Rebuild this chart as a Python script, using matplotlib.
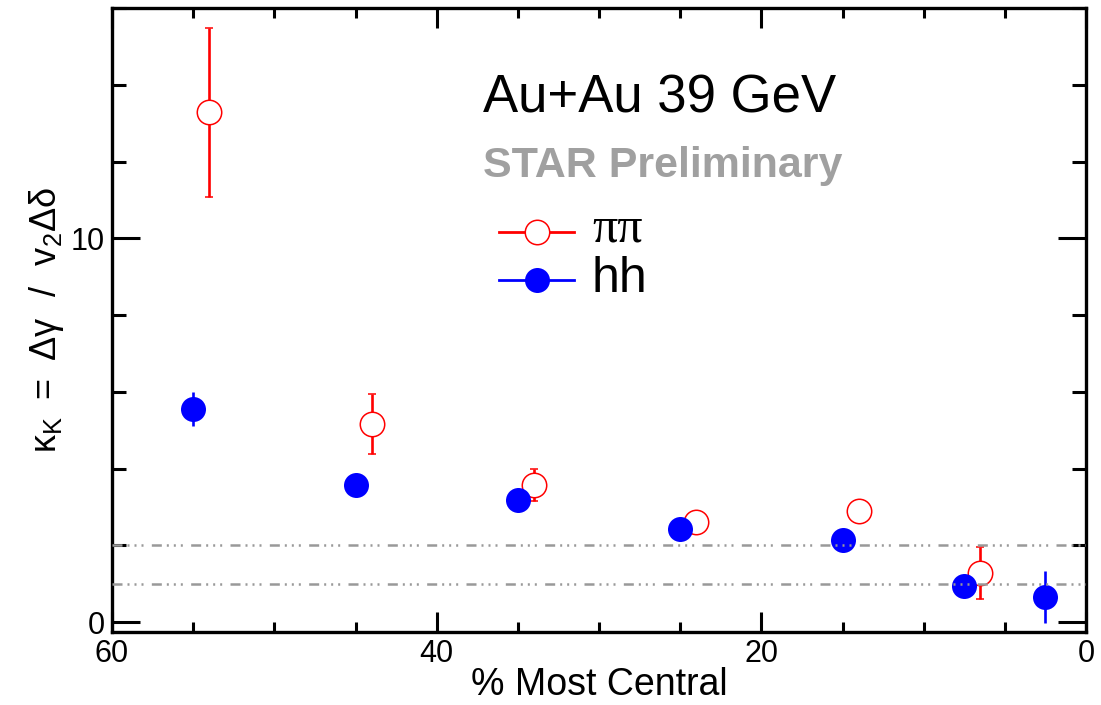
import matplotlib
matplotlib.use("Agg")
import matplotlib.pyplot as plt
from matplotlib.lines import Line2D
from matplotlib.ticker import MultipleLocator

plt.rcParams['font.family'] = ['Liberation Sans', 'DejaVu Sans']
plt.rcParams['mathtext.fontset'] = 'custom'
plt.rcParams['mathtext.rm'] = 'Liberation Sans'
plt.rcParams['mathtext.it'] = 'Liberation Sans:italic'
plt.rcParams['mathtext.bf'] = 'Liberation Sans:bold'
plt.rcParams['lines.scale_dashes'] = False

# kappa_K vs centrality, Au+Au 39 GeV
pipi_cent = [54, 44, 34, 24, 14, 6.5]
pipi_kappa = [13.28, 5.16, 3.58, 2.62, 2.90, 1.28]
pipi_err = [2.2, 0.78, 0.42, 0.2, 0.2, 0.68]

hh_cent = [55, 45, 35, 25, 15, 7.5, 2.5]
hh_kappa = [5.55, 3.57, 3.17, 2.42, 2.15, 0.94, 0.65]
hh_err = [0.45, 0.2, 0.2, 0.2, 0.2, 0.2, 0.67]

ref_levels = [1.0, 2.0]

W, H = 1101, 705
fig = plt.figure(figsize=(W / 100, H / 100), dpi=100)
ax = fig.add_axes([112 / W, (H - 631.7) / H, 974 / W, 623.7 / H])

RED = '#ff0000'
BLUE = '#0000ff'
GRAY = '#999999'

ax.errorbar(pipi_cent, pipi_kappa, yerr=pipi_err, fmt='o', color=RED,
            mfc='white', mec=RED, mew=1.1, ms=17.6, elinewidth=1.9,
            capsize=3.0, capthick=2.4, zorder=3)
ax.errorbar(hh_cent, hh_kappa, yerr=hh_err, fmt='o', color=BLUE,
            mfc=BLUE, mec=BLUE, mew=0, ms=18, elinewidth=1.9,
            capsize=3.0, capthick=2.4, zorder=4)

for lev in ref_levels:
    ax.axhline(lev, color=GRAY, lw=1.8, zorder=5, dash_capstyle='butt',
               dashes=(7.2, 3.6, 1.44, 3.6, 1.44, 3.6, 1.44, 6.0))

ax.set_xlim(60, 0)
ax.set_ylim(-0.25, 16)
ax.xaxis.set_major_locator(MultipleLocator(20))
ax.xaxis.set_minor_locator(MultipleLocator(5))
ax.yaxis.set_major_locator(MultipleLocator(10))
ax.yaxis.set_minor_locator(MultipleLocator(2))

for s in ax.spines.values():
    s.set_linewidth(2.4)
ax.tick_params(which='both', direction='in', top=True, right=True,
               width=2.2, labelsize=22, pad=5)
ax.tick_params(axis='x', which='major', length=14.4)
ax.tick_params(axis='x', which='minor', length=7.2)
ax.tick_params(axis='y', which='major', length=20)
ax.tick_params(axis='y', which='minor', length=10)

ax.set_xlabel('% Most Central', fontsize=27)
ax.xaxis.set_label_coords(0.5, -0.056)
sp_eq = r'\hspace{0.38}'
sp = r'\hspace{0.72}'
ylab = (r'$\mathrm{κ_{K}}' + sp_eq + r'\mathrm{=}' + sp_eq + r'\mathrm{Δγ}' + sp +
        r'\mathrm{/}' + sp + r'\mathrm{v_{2}Δδ}$')
ax.set_ylabel(ylab, fontsize=26)
ax.yaxis.set_label_coords(-0.047, 0.5)


def fx(px):
    return px / W


def fy(py):
    return 1 - py / H


fig.text(fx(483), fy(112.7), 'Au+Au 39 GeV', fontsize=38, va='baseline', ha='left')
fig.text(fx(483), fy(176.7), 'STAR Preliminary', fontsize=31, weight='bold',
         color='#a0a0a0', va='baseline', ha='left')

# legend entries
rows = [
    (231.7, 241.7, RED, 'white', 1.1, 17.6, 'ππ', ['Liberation Serif', 'DejaVu Serif']),
    (280.0, 291.7, BLUE, BLUE, 0, 18, 'hh', ['Liberation Sans', 'DejaVu Sans']),
]
for ly, base, col, face, mew, ms, lab, fam in rows:
    fig.add_artist(Line2D([fx(499), fx(574)], [fy(ly), fy(ly)], color=col, lw=2,
                          transform=fig.transFigure))
    fig.add_artist(Line2D([fx(537)], [fy(ly)], color=col, marker='o', ms=ms,
                          mfc=face, mec=col, mew=mew, ls='none',
                          transform=fig.transFigure))
    fig.text(fx(592), fy(base), lab, fontsize=36, family=fam, va='baseline', ha='left')

fig.savefig('out.png', dpi=100)
